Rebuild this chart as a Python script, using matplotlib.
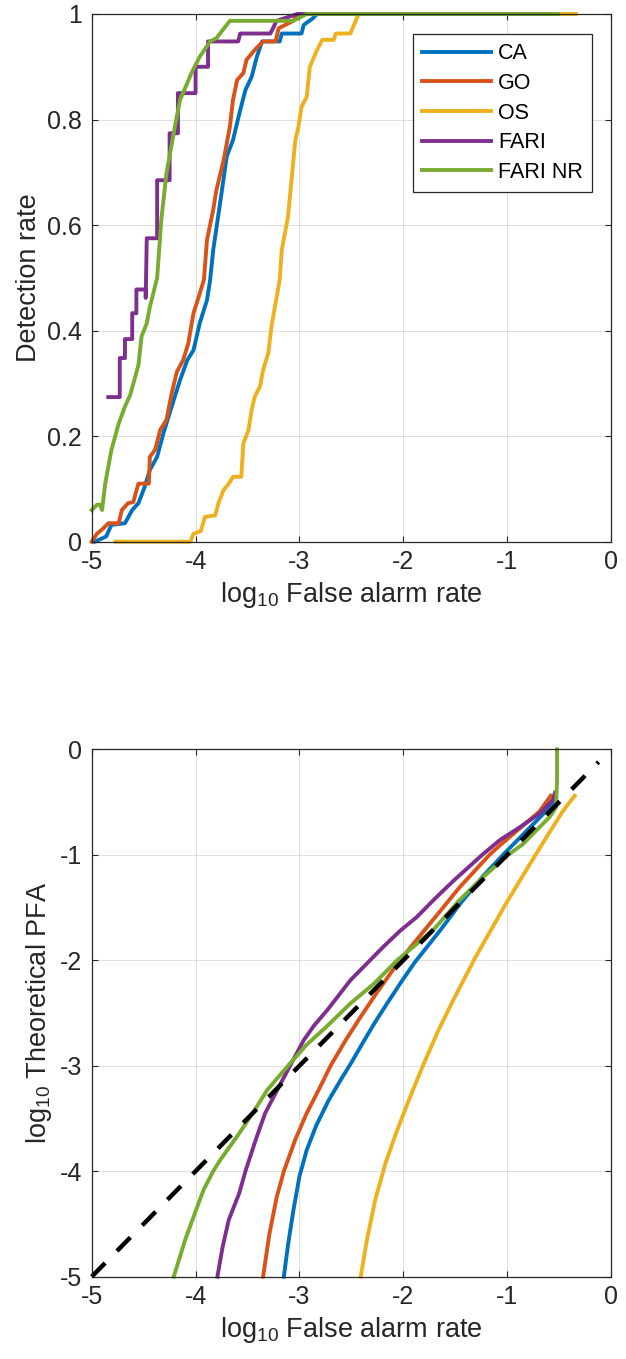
import numpy as np
import matplotlib
matplotlib.use("Agg")
import matplotlib.pyplot as plt

plt.rcParams["font.family"] = ["Liberation Sans", "DejaVu Sans"]
plt.rcParams["mathtext.fontset"] = "custom"
plt.rcParams["mathtext.rm"] = "Liberation Sans"
plt.rcParams["mathtext.it"] = "Liberation Sans:italic"
plt.rcParams["axes.unicode_minus"] = False

# ---
# Data
# ---
labels = ["CA", "GO", "OS", "FARI", "FARI NR"]
colors = ["#0072BD", "#D95319", "#EDB120", "#7E2F8E", "#77AC30"]

# top: detection rate vs log10 false alarm rate
roc_ca_x = [-4.97, -4.86, -4.81, -4.68, -4.61, -4.55, -4.49, -4.44, -4.37, -4.31, -4.26,
            -4.20, -4.15, -4.08, -4.02, -3.96, -3.89, -3.86, -3.83, -3.76, -3.70, -3.64,
            -3.57, -3.52, -3.46, -3.41, -3.36, -3.19, -3.17, -2.98, -2.96, -2.87, -2.83, -0.6]
roc_ca_y = [0.0, 0.01, 0.032, 0.035, 0.06, 0.073, 0.104, 0.136, 0.161, 0.205, 0.237,
            0.275, 0.306, 0.344, 0.363, 0.414, 0.458, 0.496, 0.553, 0.647, 0.730, 0.761,
            0.818, 0.856, 0.881, 0.919, 0.948, 0.948, 0.963, 0.963, 0.979, 0.992, 1.0, 1.0]
roc_go_x = [-5.0, -4.95, -4.89, -4.84, -4.74, -4.71, -4.65, -4.60, -4.55, -4.45, -4.44,
            -4.39, -4.34, -4.28, -4.23, -4.18, -4.12, -4.07, -4.02, -3.97, -3.92, -3.89,
            -3.83, -3.80, -3.73, -3.67, -3.64, -3.60, -3.54, -3.51, -3.43, -3.35, -3.23,
            -3.20, -3.06, -3.01, -0.6]
roc_go_y = [0.0, 0.015, 0.025, 0.035, 0.035, 0.06, 0.073, 0.075, 0.11, 0.11, 0.161,
            0.174, 0.212, 0.231, 0.281, 0.322, 0.344, 0.376, 0.433, 0.464, 0.496, 0.572,
            0.629, 0.666, 0.723, 0.786, 0.837, 0.875, 0.888, 0.913, 0.932, 0.948, 0.948,
            0.973, 0.987, 1.0, 1.0]
roc_os_x = [-4.77, -4.05, -4.02, -3.95, -3.91, -3.81, -3.78, -3.73, -3.68, -3.64, -3.56,
            -3.54, -3.49, -3.46, -3.43, -3.38, -3.35, -3.30, -3.27, -3.23, -3.19, -3.17,
            -3.11, -3.07, -3.04, -3.01, -2.98, -2.93, -2.90, -2.83, -2.78, -2.67, -2.65,
            -2.51, -2.43, -0.34]
roc_os_y = [0.0, 0.0, 0.015, 0.02, 0.047, 0.05, 0.073, 0.098, 0.11, 0.123, 0.123,
            0.186, 0.212, 0.25, 0.275, 0.294, 0.325, 0.357, 0.407, 0.452, 0.496, 0.553,
            0.616, 0.698, 0.761, 0.786, 0.824, 0.843, 0.9, 0.932, 0.951, 0.951, 0.963,
            0.963, 1.0, 1.0]
roc_fari_x = [-4.84, -4.73, -4.73, -4.68, -4.68, -4.61, -4.61, -4.57, -4.57, -4.48, -4.48,
              -4.47, -4.37, -4.37, -4.25, -4.25, -4.17, -4.17, -4.00, -4.00, -3.88, -3.88,
              -3.59, -3.57, -3.28, -3.22, -3.02, -0.6]
roc_fari_y = [0.274, 0.274, 0.348, 0.348, 0.384, 0.384, 0.433, 0.433, 0.478, 0.478, 0.462,
              0.575, 0.575, 0.685, 0.685, 0.774, 0.774, 0.85, 0.85, 0.9, 0.9, 0.948,
              0.948, 0.963, 0.963, 0.987, 1.0, 1.0]
roc_farinr_x = [-5.0, -4.95, -4.92, -4.90, -4.87, -4.81, -4.74, -4.68, -4.63, -4.58, -4.55,
                -4.52, -4.47, -4.44, -4.37, -4.33, -4.28, -4.20, -4.15, -4.08, -4.04, -3.96,
                -3.86, -3.80, -3.67, -3.06, -2.93, -0.51]
roc_farinr_y = [0.06, 0.07, 0.07, 0.06, 0.11, 0.174, 0.224, 0.256, 0.278, 0.313, 0.335,
                0.389, 0.414, 0.445, 0.50, 0.61, 0.698, 0.786, 0.837, 0.869, 0.888, 0.919,
                0.948, 0.954, 0.987, 0.987, 1.0, 1.0]

# bottom: log10 theoretical PFA vs log10 false alarm rate
pfa_ca_x = [-3.15, -3.11, -3.06, -3.00, -2.93, -2.84, -2.72, -2.60, -2.50, -2.40, -2.28,
            -2.15, -2.03, -1.89, -1.64, -1.45, -1.23, -1.04, -0.78, -0.62, -0.54]
pfa_ca_y = [-5.0, -4.70, -4.38, -4.05, -3.80, -3.57, -3.33, -3.13, -2.97, -2.80, -2.60,
            -2.40, -2.22, -2.02, -1.71, -1.46, -1.20, -1.0, -0.74, -0.58, -0.48]
pfa_go_x = [-3.35, -3.29, -3.22, -3.15, -3.04, -2.93, -2.80, -2.70, -2.55, -2.40, -2.25,
            -2.07, -1.90, -1.65, -1.46, -1.17, -1.07, -0.88, -0.69, -0.58]
pfa_go_y = [-5.0, -4.6, -4.25, -4.0, -3.7, -3.45, -3.2, -3.0, -2.75, -2.52, -2.30,
            -2.05, -1.84, -1.54, -1.31, -1.0, -0.91, -0.75, -0.59, -0.44]
pfa_os_x = [-2.41, -2.35, -2.27, -2.17, -2.07, -1.96, -1.82, -1.67, -1.52, -1.31, -1.01,
            -0.82, -0.62, -0.46, -0.35]
pfa_os_y = [-5.0, -4.65, -4.27, -3.92, -3.64, -3.36, -3.02, -2.68, -2.38, -1.98, -1.46,
            -1.15, -0.83, -0.58, -0.44]
pfa_fari_x = [-3.79, -3.74, -3.68, -3.58, -3.52, -3.42, -3.33, -3.23, -3.09, -2.96, -2.86,
              -2.73, -2.51, -2.35, -2.19, -2.03, -1.87, -1.70, -1.51, -1.24, -1.07, -0.88,
              -0.69, -0.56, -0.54]
pfa_fari_y = [-5.0, -4.72, -4.46, -4.21, -4.0, -3.70, -3.45, -3.26, -3.0, -2.76, -2.62,
              -2.47, -2.19, -2.03, -1.87, -1.72, -1.59, -1.42, -1.24, -1.0, -0.86, -0.74,
              -0.61, -0.48, -0.41]
pfa_farinr_x = [-4.21, -4.10, -4.0, -3.92, -3.83, -3.76, -3.60, -3.47, -3.31, -3.11, -2.93,
                -2.74, -2.51, -2.28, -2.06, -1.90, -1.70, -1.46, -1.23, -0.99, -0.85, -0.69,
                -0.59, -0.53, -0.52, -0.52]
pfa_farinr_y = [-5.0, -4.65, -4.38, -4.17, -4.0, -3.89, -3.67, -3.48, -3.23, -3.0, -2.80,
                -2.63, -2.41, -2.22, -2.0, -1.87, -1.70, -1.43, -1.21, -1.0, -0.90, -0.74,
                -0.64, -0.55, -0.3, 0.0]
ref_x = [-5.0, -0.12]

roc_x = [roc_ca_x, roc_go_x, roc_os_x, roc_fari_x, roc_farinr_x]
roc_y = [roc_ca_y, roc_go_y, roc_os_y, roc_fari_y, roc_farinr_y]
pfa_x = [pfa_ca_x, pfa_go_x, pfa_os_x, pfa_fari_x, pfa_farinr_x]
pfa_y = [pfa_ca_y, pfa_go_y, pfa_os_y, pfa_fari_y, pfa_farinr_y]

tick_size = 18
label_size = 19.5
axis_color = "#262626"
lw = 2.8


def style_axes(ax):
    ax.grid(True, color=axis_color, alpha=0.15, linewidth=0.7)
    ax.set_axisbelow(True)
    ax.tick_params(direction="in", top=True, right=True, length=4, width=0.8,
                   labelsize=tick_size, colors=axis_color)
    ax.tick_params(axis="x", pad=6)
    ax.tick_params(axis="y", pad=7)
    for spine in ax.spines.values():
        spine.set_color(axis_color)
        spine.set_linewidth(0.9)


fig = plt.figure(figsize=(6.26, 13.59), dpi=100)

# ---
# Top: detection rate
# ---
ax1 = fig.add_axes([0.1465, 0.6014, 0.8296, 0.3883])
for xs, ys, c, lab in zip(roc_x, roc_y, colors, labels):
    ax1.plot(xs, ys, color=c, lw=lw, label=lab, clip_on=False)
ax1.set_xlim(-5, 0)
ax1.set_ylim(0, 1)
ax1.set_xticks(np.arange(-5, 1, 1))
ax1.set_yticks(np.arange(0, 1.01, 0.2))
ax1.set_yticklabels(["0", "0.2", "0.4", "0.6", "0.8", "1"])
style_axes(ax1)
ax1.set_xlabel("log$_{10}$ False alarm rate", fontsize=label_size, color=axis_color)
ax1.set_ylabel("Detection rate", fontsize=label_size, color=axis_color)
leg = ax1.legend(loc="upper right", bbox_to_anchor=(0.9634, 0.9616), borderaxespad=0,
                 fontsize=15.5, handlelength=3.2, handletextpad=0.35,
                 labelspacing=0.4, borderpad=0.42, fancybox=False, framealpha=1)
leg.get_frame().set_edgecolor(axis_color)
leg.get_frame().set_linewidth(0.9)

# ---
# Bottom: theoretical PFA
# ---
ax2 = fig.add_axes([0.1465, 0.0606, 0.8296, 0.388])
for xs, ys, c in zip(pfa_x, pfa_y, colors):
    ax2.plot(xs, ys, color=c, lw=lw, clip_on=False)
ax2.plot(ref_x, ref_x, color="black", lw=3.2, linestyle=(0, (4.3, 3.8)),
         dash_capstyle="butt", clip_on=False)
ax2.set_xlim(-5, 0)
ax2.set_ylim(-5, 0)
ax2.set_xticks(np.arange(-5, 1, 1))
ax2.set_yticks(np.arange(-5, 1, 1))
style_axes(ax2)
ax2.set_xlabel("log$_{10}$ False alarm rate", fontsize=label_size, color=axis_color)
ax2.set_ylabel("log$_{10}$ Theoretical PFA", fontsize=label_size, color=axis_color)

fig.savefig("out.png", dpi=100)
